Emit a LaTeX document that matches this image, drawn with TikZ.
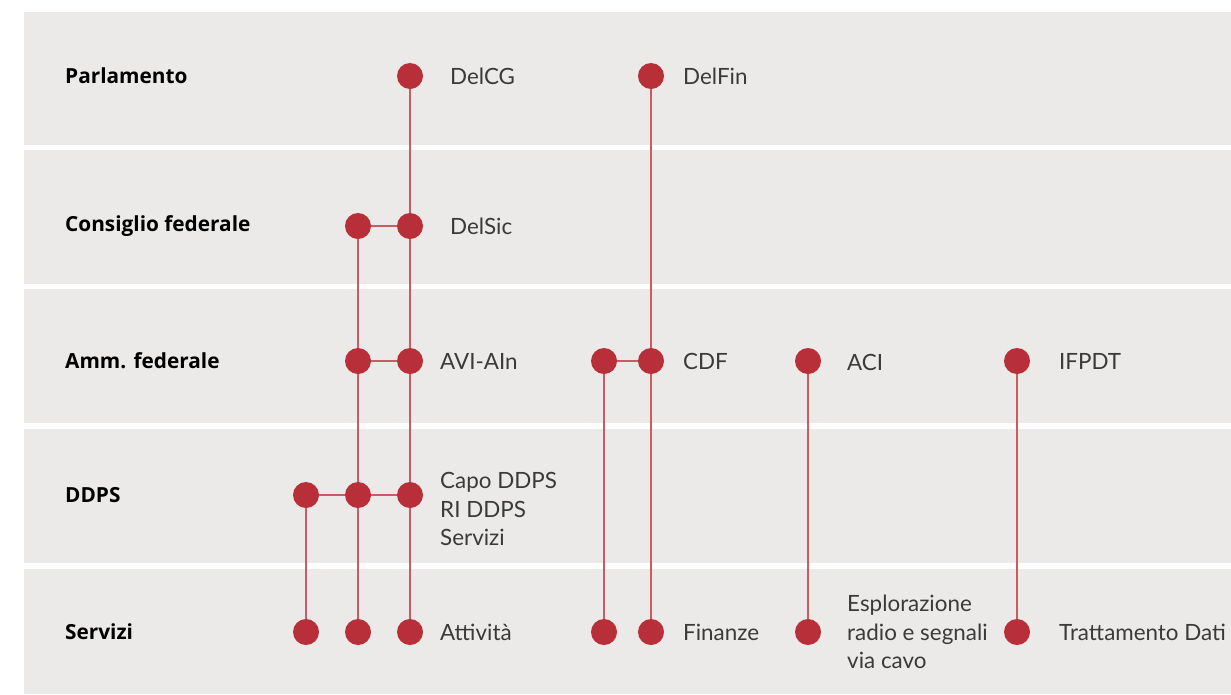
\documentclass[tikz,border=0pt]{standalone}
\usepackage{fontspec}
\setmainfont{Lato}
\newfontfamily\headfont{Open Sans}

\definecolor{bandgray}{HTML}{EBEAE9}
\definecolor{dotred}{HTML}{B82F39}
\definecolor{linkred}{HTML}{CB5A62}
\definecolor{tagtext}{HTML}{3A3A3A}

\begin{document}
\begin{tikzpicture}[x=1pt, y=-1pt,
  band/.style={fill=bandgray},
  dot/.style={circle, fill=dotred, inner sep=0pt, minimum size=26pt},
  link/.style={draw=linkred, line width=1.8pt},
  rowlabel/.style={anchor=west, inner sep=0pt, font=\headfont\bfseries\fontsize{20.8}{24}\selectfont},
  tag/.style={anchor=west, inner sep=0pt, align=left, text=tagtext, font=\fontsize{22.4}{28.5}\selectfont}]
\useasboundingbox (0,0) rectangle (1231,694);

% bands
\foreach \t/\b in {12/145, 150/284, 289/423, 429/563, 569/694}
  \fill[band] (24,\t) rectangle (1231,\b);

% row labels
\node[rowlabel] (rParl) at (65,76) {Parlamento};
\node[rowlabel] (rCons) at (65,226) {Consiglio federale};
\node[rowlabel] (rAmm) at (65,361) {Amm. federale};
\node[rowlabel] (rDdps) at (65,495) {DDPS};
\node[rowlabel] (rServ) at (65,632) {Servizi};

% dots
\node[dot] (cg) at (410,76) {};
\node[dot] (fin) at (651,76) {};
\node[dot] (sicL) at (358,226) {};
\node[dot] (sic) at (410,226) {};
\node[dot] (aviL) at (358,361) {};
\node[dot] (avi) at (410,361) {};
\node[dot] (cdfL) at (604,361) {};
\node[dot] (cdf) at (651,361) {};
\node[dot] (aci) at (808,361) {};
\node[dot] (ifp) at (1017,361) {};
\node[dot] (ddL) at (306,495) {};
\node[dot] (ddM) at (358,495) {};
\node[dot] (dd) at (410,495) {};
\node[dot] (s1) at (306,632) {};
\node[dot] (s2) at (358,632) {};
\node[dot] (att) at (410,632) {};
\node[dot] (s4) at (604,632) {};
\node[dot] (finz) at (651,632) {};
\node[dot] (esp) at (808,632) {};
\node[dot] (tdat) at (1017,632) {};

% connectors
\foreach \a/\b in {cg/sic, sic/avi, avi/dd, dd/att, sicL/sic, sicL/aviL, aviL/avi,
    aviL/ddM, ddM/dd, ddL/ddM, ddM/s2, ddL/s1, fin/cdf, cdf/finz, cdfL/cdf,
    cdfL/s4, aci/esp, ifp/tdat}
  \draw[link] (\a) -- (\b);

% labels
\node[tag] (tCg) at (450,76) {DelCG};
\node[tag] (tFin) at (683,76) {DelFin};
\node[tag] (tSic) at (450,226) {DelSic};
\node[tag] (tAvi) at (440,361) {AVI-AIn};
\node[tag] (tCdf) at (683,361) {CDF};
\node[tag] (tAci) at (847,362) {ACI};
\node[tag] (tIfp) at (1059,361) {IFPDT};
\node[tag] (tDd) at (440,509) {Capo DDPS\\RI DDPS\\Servizi};
\node[tag] (tAtt) at (440,632) {Attività};
\node[tag] (tFinz) at (683,632) {Finanze};
\node[tag] (tEsp) at (847,632) {Esplorazione\\radio e segnali\\via cavo};
\node[tag] (tDat) at (1059,632) {Trattamento Dati};
\end{tikzpicture}
\end{document}
